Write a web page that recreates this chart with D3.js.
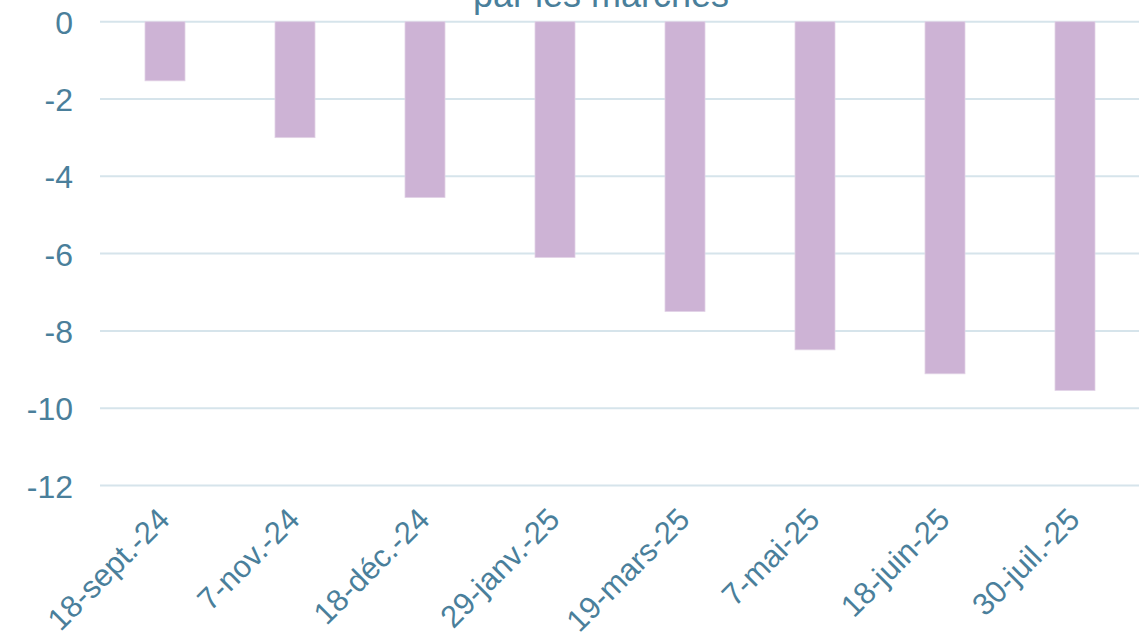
<!DOCTYPE html>
<html>
<head>
<meta charset="utf-8">
<script src="https://cdn.jsdelivr.net/npm/d3@7"></script>
<style>
  body { margin: 0; background: #fff; }
  svg text { font-family: "Liberation Sans", Arial, sans-serif; fill: #4a7f9b; }
</style>
</head>
<body>
<div id="graphique"></div>
<script>
// données
const dates = ["18-sept.-24", "7-nov.-24", "18-déc.-24", "29-janv.-25", "19-mars-25", "7-mai-25", "18-juin-25", "30-juil.-25"];
const valeurs = [-1.53, -3.0, -4.55, -6.1, -7.5, -8.49, -9.11, -9.54];
const ticksY = [0, -2, -4, -6, -8, -10, -12];
const titre = "par les marchés";

const largeur = 1140, hauteur = 641;
const marge = { haut: 21.7, droite: 0, bas: 641 - 485.5, gauche: 100 };

let monSVG = d3.select("#graphique").append("svg")
    .attr("width", largeur)
    .attr("height", hauteur);

// échelles
let x = d3.scaleBand()
    .domain(dates)
    .range([marge.gauche, largeur - marge.droite])
    .paddingInner(0.6923)
    .paddingOuter(0.3462);

let y = d3.scaleLinear()
    .domain([0, -12])
    .range([marge.haut, hauteur - marge.bas]);

// titre (seule la dernière ligne est visible)
monSVG.append("text")
    .attr("x", 601)
    .attr("y", 7)
    .attr("text-anchor", "middle")
    .style("font-size", "36px")
    .text(titre);

// grille
monSVG.append("g")
    .selectAll("line")
    .data(ticksY)
    .enter().append("line")
    .attr("x1", marge.gauche)
    .attr("x2", largeur - 1)
    .attr("y1", d => y(d))
    .attr("y2", d => y(d))
    .attr("stroke", "#d6e4eb")
    .attr("stroke-width", 2);

// axe y
let axeY = monSVG.append("g")
    .attr("transform", "translate(" + (marge.gauche - 27) + ",0)")
    .call(d3.axisLeft(y).tickValues(ticksY).tickSize(0).tickPadding(0).tickFormat(d => d === 0 ? "0" : "-" + Math.abs(d)));
axeY.select(".domain").remove();
axeY.selectAll("text")
    .style("font-size", "32px")
    .attr("dy", "0.36em");

// barres
monSVG.append("g")
    .selectAll("rect")
    .data(valeurs)
    .enter().append("rect")
    .attr("x", (d, i) => x(dates[i]))
    .attr("y", y(0))
    .attr("width", x.bandwidth())
    .attr("height", d => y(d) - y(0))
    .attr("fill", "#cdb3d5")
    .attr("stroke", "#e2d3e6")
    .attr("stroke-width", 0.8);

// axe x, étiquettes inclinées
let axeX = monSVG.append("g")
    .attr("transform", "translate(0,506)")
    .call(d3.axisBottom(x).tickSize(0).tickPadding(0));
axeX.select(".domain").remove();
axeX.selectAll("text")
    .style("font-size", "31px")
    .attr("text-anchor", "end")
    .attr("dy", "0.7em")
    .attr("transform", "translate(-9,0) rotate(-45)");
</script>
</body>
</html>
